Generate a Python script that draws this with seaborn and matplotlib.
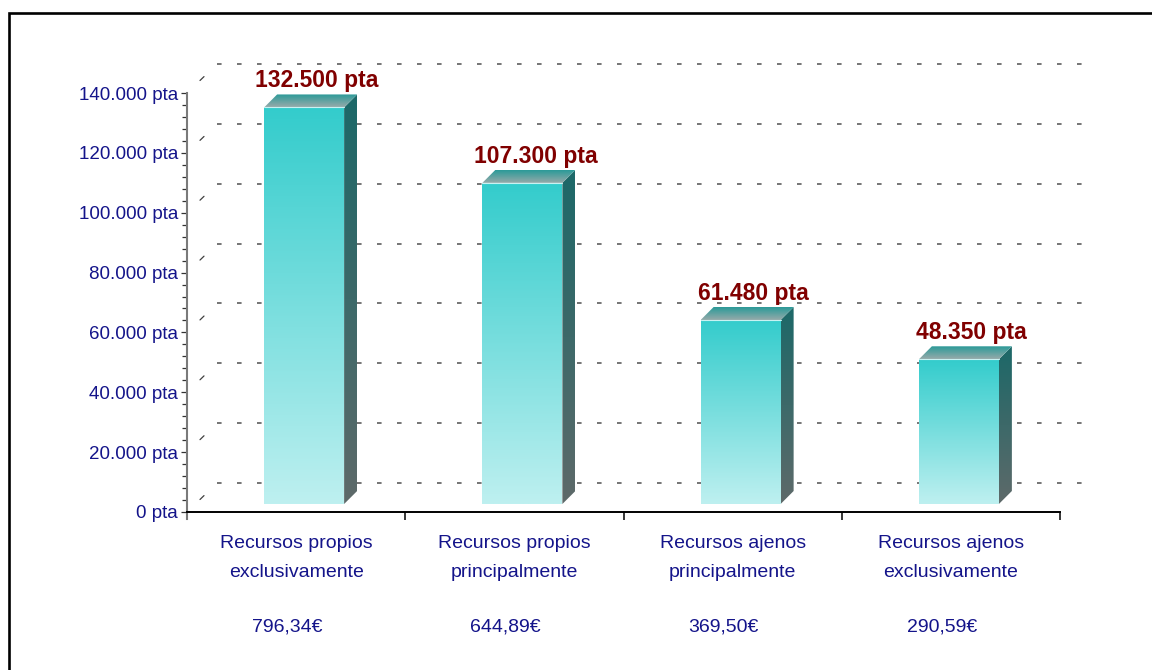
import numpy as np
import pandas as pd
import matplotlib
matplotlib.use("Agg")
import matplotlib.pyplot as plt
import seaborn as sns
from matplotlib.patches import Polygon, Rectangle
from matplotlib.lines import Line2D
from matplotlib.transforms import IdentityTransform, ScaledTranslation, blended_transform_factory
from matplotlib.colors import to_rgb

# ---------------- data ----------------
cat_line1 = ["Recursos propios", "Recursos propios", "Recursos ajenos", "Recursos ajenos"]
cat_line2 = ["exclusivamente", "principalmente", "principalmente", "exclusivamente"]
values = [132500, 107300, 61480, 48350]
value_labels = ["132.500 pta", "107.300 pta", "61.480 pta", "48.350 pta"]
euro_labels = ["796,34€", "644,89€", "369,50€", "290,59€"]
ytick_values = [0, 20000, 40000, 60000, 80000, 100000, 120000, 140000]
ytick_labels = ["0 pta", "20.000 pta", "40.000 pta", "60.000 pta", "80.000 pta",
                "100.000 pta", "120.000 pta", "140.000 pta"]

# ---------------- style ----------------
sns.set_theme(style="white")
plt.rcParams["font.family"] = ["Liberation Sans", "DejaVu Sans"]
plt.rcParams["lines.scale_dashes"] = False

NAVY = "#14148a"
DARKRED = "#800000"
FRONT_TOP, FRONT_BOT = "#33CCCC", "#BEF0F0"
SIDE_TOP, SIDE_BOT = "#1C6868", "#5E6A6A"
TOP_BACK, TOP_FRONT = "#2A9A98", "#96AAAA"

W, H, DPI = 1152, 670, 100
fig = plt.figure(figsize=(W / DPI, H / DPI), dpi=DPI)
fig.patch.set_facecolor("white")
ax = fig.add_axes([187 / W, (H - 512) / H, 873 / W, 419 / H])

df = pd.DataFrame({"cat": [a + " " + b for a, b in zip(cat_line1, cat_line2)],
                   "value": values})
bar_w = 80 / 218.25
sns.barplot(data=df, x="cat", y="value", width=bar_w, color=FRONT_TOP,
            errorbar=None, ax=ax, zorder=3)

ax.set_xlim(-0.5, 3.5)
ax.set_ylim(0, 140000)
ax.set_xlabel("")
ax.set_ylabel("")
ax.set_facecolor("none")

# ---------------- axes / ticks ----------------
for s in ["top", "right"]:
    ax.spines[s].set_visible(False)
ax.spines["left"].set_color("#7a7a7a")
ax.spines["left"].set_linewidth(1.5)
ax.spines["left"].set_bounds(-2400, 140000)
ax.spines["bottom"].set_color("black")
ax.spines["bottom"].set_linewidth(1.4)
ax.spines["bottom"].set_zorder(5)

ax.set_yticks(ytick_values)
ax.set_yticklabels(ytick_labels)
ax.set_yticks(np.arange(0, 140001, 4000), minor=True)
ax.tick_params(axis="y", which="major", direction="out", length=4.3, width=0.9,
               color="#333333", labelsize=13.5, labelcolor=NAVY, pad=2.2, left=True)
ax.tick_params(axis="y", which="minor", direction="out", length=3.6, width=0.9,
               color="#333333", left=True)
ax.set_xticks([0.5, 1.5, 2.5, 3.5])
ax.set_xticklabels([])
ax.tick_params(axis="x", which="major", direction="out", length=5.8, width=1.1,
               color="black", bottom=True)
ax.tick_params(axis="x", which="minor", bottom=False)

# ---------------- back wall grid ----------------
back = ax.transData + ScaledTranslation(30 / DPI, 29 / DPI, fig.dpi_scale_trans)
for v in ytick_values:
    ax.plot([-0.5, 3.5], [v, v], transform=back, color="#505050", lw=1.1,
            linestyle=(0, (3.3, 11.1)), clip_on=False, zorder=1)
    x0, y0 = ax.transData.transform((-0.5, v))
    ax.add_line(Line2D([x0 + 13, x0 + 17], [y0 + 12.5, y0 + 16.4],
                       transform=IdentityTransform(), color="#404040", lw=0.9,
                       clip_on=False, zorder=1))


def grad_poly(verts, c_low, c_high, zorder=3, clip_artist=None):
    verts = np.asarray(verts, dtype=float)
    x0, y0 = verts.min(0)
    x1, y1 = verts.max(0)
    t = np.linspace(0, 1, 256)[:, None]
    cols = np.array(to_rgb(c_low))[None, :] * (1 - t) + np.array(to_rgb(c_high))[None, :] * t
    img = cols[:, None, :]
    if clip_artist is None:
        clip_artist = Polygon(verts, closed=True, transform=IdentityTransform(),
                              facecolor="none", edgecolor="none")
    im = ax.imshow(img, extent=(x0, x1, y0, y1), origin="lower",
                   transform=IdentityTransform(), aspect="auto",
                   interpolation="bilinear", zorder=zorder)
    im.set_clip_path(clip_artist)
    return im


# ---------------- 3D bars ----------------
off_px = 8
depth = 13
front_off = ScaledTranslation(off_px / DPI, off_px / DPI, fig.dpi_scale_trans)
bars = list(ax.patches)
for i, patch in enumerate(bars):
    patch.set_transform(ax.transData + front_off)
    patch.set_facecolor("none")
    patch.set_edgecolor("none")
    xl_d = patch.get_x()
    xr_d = patch.get_x() + patch.get_width()
    h_d = patch.get_height()
    (xl, yb) = ax.transData.transform((xl_d, 0)) + off_px
    (xr, yt) = ax.transData.transform((xr_d, h_d)) + off_px
    front = [(xl, yb), (xr, yb), (xr, yt), (xl, yt)]
    top = [(xl, yt), (xr, yt), (xr + depth, yt + depth), (xl + depth, yt + depth)]
    side = [(xr, yb), (xr + depth, yb + depth), (xr + depth, yt + depth), (xr, yt)]
    grad_poly(side, SIDE_BOT, SIDE_TOP, zorder=3)
    grad_poly(top, TOP_FRONT, TOP_BACK, zorder=3)
    grad_poly(front, FRONT_BOT, FRONT_TOP, zorder=3.5)
    ax.add_line(Line2D([xl, xr], [yt, yt], transform=IdentityTransform(),
                       color="#C8F2F2", lw=0.8, zorder=3.6))
    ax.annotate(value_labels[i], xy=(i, values[i]), xytext=(off_px + 13, 28),
                textcoords="offset pixels", ha="center", va="baseline",
                fontsize=16.5, fontweight="bold", color=DARKRED, zorder=6,
                annotation_clip=False)

# ---------------- category labels ----------------
tr = blended_transform_factory(ax.transData, fig.transFigure)
for i in range(len(values)):
    ax.text(i, (H - 548) / H, cat_line1[i], transform=tr, ha="center", va="baseline",
            fontsize=14, color=NAVY)
    ax.text(i, (H - 577) / H, cat_line2[i], transform=tr, ha="center", va="baseline",
            fontsize=14, color=NAVY)
    ax.text(i - 0.04, (H - 632) / H, euro_labels[i], transform=tr, ha="center",
            va="baseline", fontsize=14, color=NAVY)

# ---------------- outer frame ----------------
fig.add_artist(Rectangle((8.5 / W, -0.1), 1.2, (H - 12.5) / H + 0.1,
                         transform=fig.transFigure, fill=False, edgecolor="black",
                         linewidth=1.9, clip_on=False))

fig.savefig("out.png", dpi=DPI, facecolor="white")
